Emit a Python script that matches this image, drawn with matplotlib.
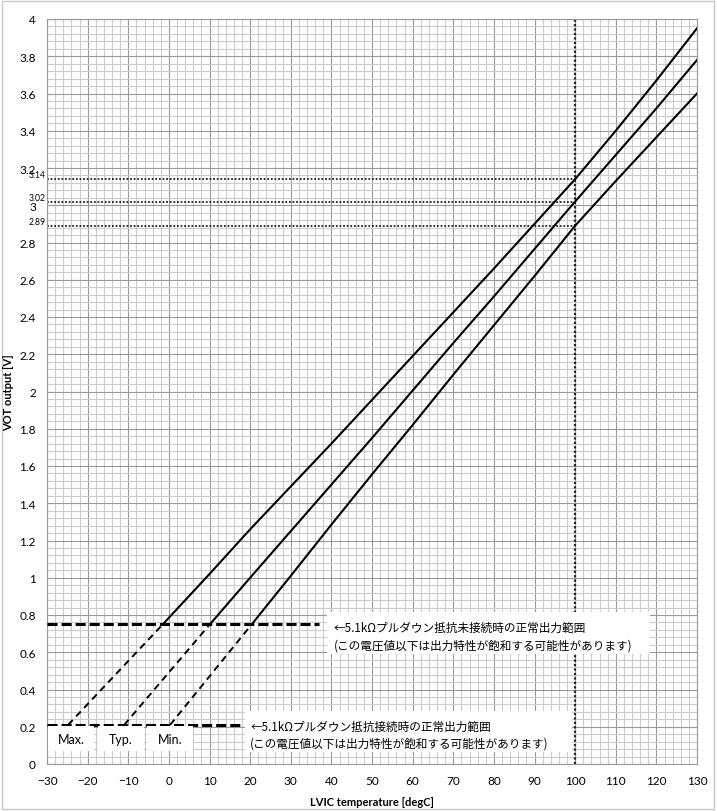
import numpy as np
import matplotlib
matplotlib.use("Agg")
import matplotlib.pyplot as plt
from matplotlib.ticker import MultipleLocator, FuncFormatter
from matplotlib.patches import Rectangle

# curve data (solid part, above 0.75 V)
temp_max = [-1.5, 10, 20, 30, 40, 50, 60, 70, 80, 90, 100, 110, 120, 130]
vot_max = [0.75, 1.02, 1.26, 1.49, 1.72, 1.955, 2.19, 2.425, 2.66, 2.90, 3.14, 3.40, 3.67, 3.95]
temp_typ = [10.1, 20, 30, 40, 50, 60, 70, 80, 90, 100, 110, 120, 130]
vot_typ = [0.75, 1.0, 1.25, 1.50, 1.75, 2.005, 2.26, 2.51, 2.765, 3.02, 3.27, 3.52, 3.78]
temp_min = [20.4, 30, 40, 50, 60, 70, 80, 90, 100, 110, 120, 130]
vot_min = [0.75, 1.01, 1.285, 1.555, 1.82, 2.09, 2.355, 2.62, 2.89, 3.13, 3.365, 3.60]

# dashed extensions below 0.75 V (down to 0.21 V)
ext_max = ([-24.8, -1.5], [0.21, 0.75])
ext_typ = ([-11.0, 10.1], [0.21, 0.75])
ext_min = ([0.3, 20.4], [0.21, 0.75])

ref_levels = [3.14, 3.02, 2.89]
ref_temp = 100
limit_open = 0.75
limit_pull = 0.21

curve_names = ["Max.", "Typ.", "Min."]
note_open = ["←5.1kΩプルダウン抵抗未接続時の正常出力範囲",
             "(この電圧値以下は出力特性が飽和する可能性があります)"]
note_pull = ["←5.1kΩプルダウン抵抗接続時の正常出力範囲",
             "(この電圧値以下は出力特性が飽和する可能性があります)"]

lat = ['Lato', 'Noto Sans CJK JP', 'DejaVu Sans']
jp = ['Noto Sans CJK JP', 'DejaVu Sans']

fig = plt.figure(figsize=(7.17, 8.12), dpi=100)
ax = fig.add_axes([47/717, 47/812, 650/717, 745/812])

# outer chart frame
fig.patches.append(Rectangle((2/717, 2/812), 712/717, 808/812, transform=fig.transFigure,
                             fill=False, edgecolor='#c8c8c8', lw=1))

ax.set_xlim(-30, 130)
ax.set_ylim(0, 4)
ax.xaxis.set_major_locator(MultipleLocator(10))
ax.xaxis.set_minor_locator(MultipleLocator(2))
ax.yaxis.set_major_locator(MultipleLocator(0.2))
ax.yaxis.set_minor_locator(MultipleLocator(0.04))
ax.yaxis.set_major_formatter(FuncFormatter(lambda v, p: f"{round(v, 2):g}"))
ax.grid(which='major', color='#999999', lw=0.8)
ax.grid(which='minor', color='#cccccc', lw=0.8)
ax.set_axisbelow(True)
for s in ax.spines.values():
    s.set_color('#999999')
    s.set_linewidth(0.8)
ax.tick_params(which='both', length=0, labelsize=8.5)
ax.tick_params(axis='y', pad=8)
ax.tick_params(axis='x', pad=8)
for lab in ax.get_xticklabels() + ax.get_yticklabels():
    lab.set_family(lat)

# curves
for t, v in [(temp_max, vot_max), (temp_typ, vot_typ), (temp_min, vot_min)]:
    ax.plot(t, v, color='black', lw=1.5, zorder=3)
for t, v in [ext_max, ext_typ, ext_min]:
    ax.plot(t, v, color='black', lw=1.4, ls=(0, (3.5, 2.5)), zorder=3)

# reference dotted lines
ax.axvline(ref_temp, color='#222222', lw=1.6, ls=(0, (1, 1)), zorder=2)
for lv in ref_levels:
    ax.plot([-30, ref_temp], [lv, lv], color='#222222', lw=1.3, ls=(0, (1, 1)), zorder=2)
    ax.annotate(f"{lv:.2f}", xy=(-30, lv), xytext=(-1, 0), textcoords='offset points',
                ha='right', va='bottom', fontsize=6.2, family=lat, annotation_clip=False)

# saturation limit lines
ax.plot([-30, 37], [limit_open, limit_open], color='black', lw=2.2, ls=(0, (3.3, 1.3)), zorder=3)
ax.plot([-30, 17.5], [limit_pull, limit_pull], color='black', lw=2.2, ls=(0, (3.3, 1.3)), zorder=3)

# note boxes
ax.add_patch(Rectangle((39, 0.59), 79.5, 0.225, facecolor='white', edgecolor='none', zorder=4))
ax.text(40.5, 0.735, note_open[0], fontsize=8.4, family=jp, va='center', zorder=5)
ax.text(40.5, 0.64, note_open[1], fontsize=8.4, family=jp, va='center', zorder=5)
ax.add_patch(Rectangle((18.7, 0.064), 80.5, 0.22, facecolor='white', edgecolor='none', zorder=4))
ax.text(20.0, 0.20, note_pull[0], fontsize=8.4, family=jp, va='center', zorder=5)
ax.text(20.0, 0.11, note_pull[1], fontsize=8.4, family=jp, va='center', zorder=5)

# Max / Typ / Min labels
for name, x0 in zip(curve_names, [-29.7, -17.4, -5.4]):
    ax.add_patch(Rectangle((x0, 0.07), 11.3, 0.134, facecolor='white', edgecolor='none', zorder=4))
    ax.text(x0 + 5.65, 0.135, name, fontsize=9, family=lat, ha='center', va='center', zorder=5)

fig.text(372/717, 1 - 803/812, "LVIC temperature [degC]", fontsize=8, fontweight='bold',
         family=lat, ha='center', va='center')
fig.text(9/717, 1 - 393/812, "VOT output [V]", fontsize=8, fontweight='bold',
         family=lat, ha='center', va='center', rotation=90)

fig.savefig("out.png", dpi=100)
